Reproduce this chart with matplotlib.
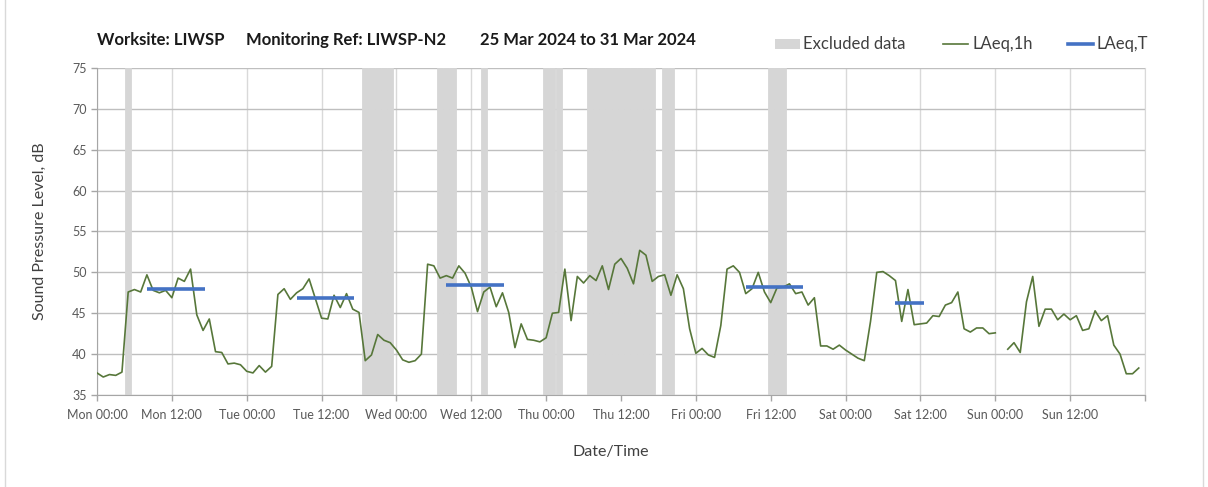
import matplotlib
matplotlib.use("Agg")
import matplotlib.pyplot as plt
import numpy as np
from matplotlib.lines import Line2D
from matplotlib.patches import Rectangle

# ---------------- data ----------------
laeq_1h = [
    37.7, 37.2, 37.5, 37.4, 37.8, 47.6, 47.9, 47.6, 49.7, 47.8, 47.5, 47.8,   # Mon 00-11
    46.9, 49.3, 48.9, 50.4, 44.8, 42.9, 44.3, 40.3, 40.2, 38.8, 38.9, 38.7,   # Mon 12-23
    37.9, 37.7, 38.6, 37.8, 38.5, 47.3, 48.0, 46.7, 47.5, 48.0, 49.2, 46.8,   # Tue 00-11
    44.4, 44.3, 47.2, 45.7, 47.4, 45.5, 45.1, 39.2, 39.9, 42.4, 41.7, 41.4,   # Tue 12-23
    40.5, 39.3, 39.0, 39.2, 40.0, 51.0, 50.8, 49.3, 49.6, 49.3, 50.8, 49.9,   # Wed 00-11
    48.2, 45.2, 47.6, 48.2, 45.8, 47.5, 45.1, 40.8, 43.7, 41.8, 41.7, 41.5,   # Wed 12-23
    42.0, 45.0, 45.1, 50.4, 44.1, 49.5, 48.7, 49.6, 49.0, 50.8, 47.9, 51.0,   # Thu 00-11
    51.7, 50.5, 48.6, 52.7, 52.1, 48.9, 49.5, 49.7, 47.2, 49.7, 48.0, 43.1,   # Thu 12-23
    40.1, 40.7, 39.9, 39.6, 43.5, 50.4, 50.8, 50.0, 47.4, 48.0, 50.0, 47.6,   # Fri 00-11
    46.3, 48.1, 48.2, 48.6, 47.4, 47.6, 46.0, 46.9, 41.0, 41.0, 40.6, 41.1,   # Fri 12-23
    40.5, 40.0, 39.5, 39.2, 44.0, 50.0, 50.1, 49.6, 49.0, 44.0, 47.9, 43.6,   # Sat 00-11
    43.7, 43.8, 44.7, 44.6, 46.0, 46.3, 47.6, 43.1, 42.7, 43.2, 43.2, 42.5,   # Sat 12-23
    42.6, np.nan, 40.6, 41.4, 40.2, 46.4, 49.5, 43.4, 45.5, 45.5, 44.2, 44.9, # Sun 00-11
    44.2, 44.7, 42.9, 43.1, 45.3, 44.1, 44.7, 41.1, 40.0, 37.6, 37.6, 38.3,   # Sun 12-23
]
hours = np.arange(len(laeq_1h))

excluded_hours = [5,
                  43, 44, 45, 46, 47,
                  55, 56, 57,
                  62,
                  72, 73, 74,
                  79, 80, 81, 82, 83, 84, 85, 86, 87, 88, 89,
                  91, 92,
                  108, 109, 110]

laeq_t_start = [8, 32, 56, 104, 128]
laeq_t_end = [17.25, 41.25, 65.25, 113.25, 132.5]
laeq_t_level = [48.0, 46.9, 48.4, 48.2, 46.3]

xtick_hours = list(range(0, 169, 12))
xtick_labels = ["Mon 00:00", "Mon 12:00", "Tue 00:00", "Tue 12:00", "Wed 00:00",
                "Wed 12:00", "Thu 00:00", "Thu 12:00", "Fri 00:00", "Fri 12:00",
                "Sat 00:00", "Sat 12:00", "Sun 00:00", "Sun 12:00", ""]
ytick_values = list(range(35, 76, 5))

title_parts = ["Worksite: LIWSP", "Monitoring Ref: LIWSP-N2", "25 Mar 2024 to 31 Mar 2024"]
legend_labels = ["Excluded data", "LAeq,1h", "LAeq,T"]

# ---------------- style ----------------
W, H = 1208, 487
plt.rcParams['font.family'] = ['Lato', 'DejaVu Sans']
GREEN = "#57773a"
BLUE = "#4472c4"
BAND = "#d6d6d6"
HGRID = "#bfbfbf"
VGRID = "#d9d9d9"
TXT = "#595959"

fig = plt.figure(figsize=(W / 100, H / 100), dpi=100)
fig.patch.set_facecolor("white")

def fx(px):
    return px / W

def fy(py):
    return 1 - py / H

ax = fig.add_axes([fx(97), fy(395), fx(1145) - fx(97), fy(68) - fy(395)])

ax.bar(excluded_hours, [40] * len(excluded_hours), bottom=35, width=1.0,
       color=BAND, edgecolor=BAND, linewidth=0.6, zorder=1)
ax.plot(hours, laeq_1h, color=GREEN, lw=1.2, zorder=3)
ax.hlines(laeq_t_level, laeq_t_start, laeq_t_end, color=BLUE, lw=2.6, zorder=4)

ax.set_xlim(0, 168)
ax.set_ylim(35, 75)
ax.set_xticks(xtick_hours)
ax.set_xticklabels(xtick_labels)
ax.set_yticks(ytick_values)
ax.set_yticklabels([str(v) for v in ytick_values])

ax.grid(axis='y', color=HGRID, lw=1.0, zorder=0)
ax.grid(axis='x', color=VGRID, lw=1.0, zorder=0)
ax.set_axisbelow(True)

ax.spines['top'].set_visible(False)
ax.spines['right'].set_color(VGRID)
ax.spines['left'].set_color("#a6a6a6")
ax.spines['bottom'].set_color("#a6a6a6")
ax.tick_params(axis='both', colors="#a6a6a6", labelcolor=TXT, labelsize=9,
               length=4, width=1)
ax.tick_params(axis='x', pad=6)

ax.set_ylabel("Sound Pressure Level, dB", fontsize=11.5, color="#404040", labelpad=18)
fig.text(fx(611), fy(452), "Date/Time", fontsize=11.5, color="#404040", ha='center', va='center')

# title pieces
for xpos, txt in zip([97, 246, 480], title_parts):
    fig.text(fx(xpos), fy(40), txt, fontsize=12, fontweight='bold', color="#1a1a1a",
             ha='left', va='center')

# legend (manual)
fig.add_artist(Rectangle((fx(775), fy(49)), fx(800) - fx(775), fy(39) - fy(49),
                         transform=fig.transFigure, color=BAND, lw=0))
fig.text(fx(803), fy(44), legend_labels[0], fontsize=12, color="#404040", ha='left', va='center')
fig.add_artist(Line2D([fx(943), fx(968)], [fy(44), fy(44)], transform=fig.transFigure,
                      color=GREEN, lw=1.2))
fig.text(fx(972), fy(44), legend_labels[1], fontsize=12, color="#404040", ha='left', va='center')
fig.add_artist(Line2D([fx(1068), fx(1093)], [fy(44), fy(44)], transform=fig.transFigure,
                      color=BLUE, lw=2.6))
fig.text(fx(1097), fy(44), legend_labels[2], fontsize=12, color="#404040", ha='left', va='center')

# outer frame lines
fig.add_artist(Line2D([fx(5), fx(5)], [0, 1], transform=fig.transFigure, color="#d9d9d9", lw=1))
fig.add_artist(Line2D([fx(1203), fx(1203)], [0, 1], transform=fig.transFigure, color="#d9d9d9", lw=1))

fig.savefig("out.png", dpi=100)
